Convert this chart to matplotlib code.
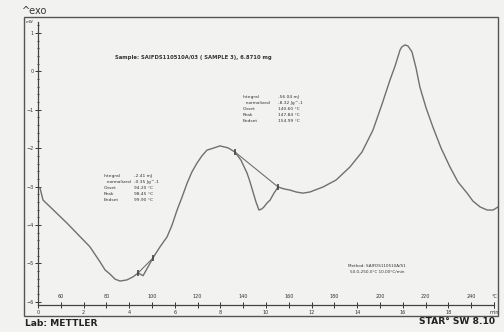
import numpy as np
import matplotlib
matplotlib.use('Agg')
import matplotlib.pyplot as plt
from matplotlib.patches import Rectangle
from matplotlib.ticker import FixedLocator

# DSC curve (temperature in C, heat flow in mW)
temp = [50.9, 52.2, 62.7, 72.8, 77.2, 79.4, 81.6, 83.8, 86.0, 89.0,
        91.7, 93.9, 96.1, 100.4, 103.5, 106.6, 108.8, 111.0, 113.2, 115.4,
        117.5, 119.7, 121.9, 124.1, 126.8, 129.8, 133.3, 136.4, 139.0, 141.7,
        143.0, 144.3, 145.6, 146.9, 148.2, 149.1, 150.4, 151.8, 153.5, 155.3,
        157.9, 160.5, 163.2, 166.2, 169.3, 175.0, 180.7, 186.8, 192.1, 196.9,
        200.9, 204.4, 206.6, 208.8, 209.6, 211.0, 212.3, 214.0, 215.8, 217.5,
        220.2, 223.2, 226.8, 230.7, 234.2, 238.2, 240.8, 243.9, 247.0, 249.6,
        251.8]
heat = [-3.04, -3.35, -3.95, -4.57, -4.96, -5.17, -5.28, -5.41, -5.46, -5.43,
        -5.35, -5.25, -5.32, -4.86, -4.57, -4.31, -4.00, -3.61, -3.27, -2.91,
        -2.62, -2.39, -2.20, -2.05, -2.00, -1.94, -1.99, -2.10, -2.31, -2.65,
        -2.88, -3.14, -3.40, -3.61, -3.58, -3.53, -3.43, -3.35, -3.17, -3.01,
        -3.06, -3.09, -3.14, -3.17, -3.14, -3.01, -2.83, -2.49, -2.10, -1.53,
        -0.85, -0.22, 0.14, 0.56, 0.64, 0.69, 0.66, 0.51, 0.09, -0.41,
        -0.95, -1.45, -2.00, -2.49, -2.88, -3.17, -3.38, -3.53, -3.61, -3.61,
        -3.53]

# integration limits of the two evaluated peaks
peak1_t = [93.9, 100.4]
peak1_h = [-5.25, -4.86]
peak2_t = [136.4, 155.3]
peak2_h = [-2.10, -3.01]

temp_ticks = [60, 80, 100, 120, 140, 160, 180, 200, 220, 240, 250]
temp_labels = ['60', '80', '100', '120', '140', '160', '180', '200', '220', '240', '°C']
time_ticks = [0, 2, 4, 6, 8, 10, 12, 14, 16, 18, 20]
time_labels = ['0', '2', '4', '6', '8', '10', '12', '14', '16', '18', 'min']
y_ticks = [-6, -5, -4, -3, -2, -1, 0, 1]

table_rows = ['Integral', '  normalized', 'Onset', 'Peak', 'Endset']
table1_vals = ['-2.41 mJ', '-0.35 Jg^-1', '94.20 °C', '98.45 °C', '99.90 °C']
table2_vals = ['-56.04 mJ', '-8.32 Jg^-1', '140.60 °C', '147.84 °C', '154.99 °C']

W, H = 504, 332


def px(x, y):
    return x / W, 1 - y / H


fig = plt.figure(figsize=(W / 100, H / 100), dpi=100)
fig.patch.set_facecolor('#f2f2f0')

# axes covers the printed frame; x axis line sits at -6.08 mW
x0, x1 = 43.86, 251.75
y0, y1 = -6.37, 1.417
yaxis_bot = -6.08
ax = fig.add_axes([24 / W, 16 / H, 474 / W, 299 / H])
ax.set_facecolor('none')
ax.set_xlim(x0, x1)
ax.set_ylim(y0, y1)

line_col = '#707070'
ax.plot(temp, heat, color=line_col, lw=1.0, solid_joinstyle='round')
ax.plot(peak1_t, peak1_h, color=line_col, lw=0.8, marker='|', ms=5, mew=1.2, mec='#444')
ax.plot(peak2_t, peak2_h, color=line_col, lw=0.8, marker='|', ms=5, mew=1.2, mec='#444')

for s in ['left', 'bottom', 'top']:
    ax.spines[s].set_color('#444')
    ax.spines[s].set_linewidth(0.9)
ax.spines['left'].set_position(('data', 50))
ax.spines['left'].set_bounds(yaxis_bot, 1.29)
ax.spines['bottom'].set_position(('data', yaxis_bot))
ax.spines['bottom'].set_bounds(50, 250)
ax.spines['top'].set_position(('data', yaxis_bot))
ax.spines['top'].set_visible(False)
ax.spines['right'].set_visible(False)

# temperature labels above the axis line
ax.set_xticks(temp_ticks, temp_labels)
ax.tick_params(axis='x', bottom=False, labelbottom=False, top=True, labeltop=True,
               direction='inout', length=5, width=0.7, pad=1.5, labelsize=3.5,
               colors='#333')

# time labels below the axis line
loc = (yaxis_bot - y0) / (y1 - y0)
sec = ax.secondary_xaxis(loc, functions=(lambda T: (T - 50) / 10.0,
                                         lambda t: 50 + 10.0 * t))
sec.set_xticks(time_ticks, time_labels)
sec.spines['bottom'].set_visible(False)
sec.tick_params(direction='inout', length=5, width=0.7, pad=1.5, labelsize=3.5,
                colors='#333')

ax.set_yticks(y_ticks)
ax.yaxis.set_minor_locator(FixedLocator(np.arange(-6.0, 1.21, 0.2)))
ax.tick_params(axis='y', which='major', direction='inout', length=4, width=0.7,
               pad=1, labelsize=3.5, colors='#333')
ax.tick_params(axis='y', which='minor', direction='inout', length=2, width=0.5)

# outer frame
fig.add_artist(Rectangle(px(24, 316), 474 / W, 299 / H, transform=fig.transFigure,
                         fill=False, lw=1.0, ec='#555'))

fig.text(*px(22, 11), '^exo', fontsize=7, color='#333', va='center')
fig.text(*px(26, 22), 'mW', fontsize=2.8, color='#333', va='center')
fig.text(*px(115, 57), 'Sample: SAIFDS110510A/03 ( SAMPLE 3), 6.8710 mg',
         fontsize=3.8, fontweight='bold', color='#333', va='center')

for i, row in enumerate(table_rows):
    yy = 176 + 6 * i
    fig.text(*px(104, yy), row, fontsize=3.2, color='#333', va='center')
    fig.text(*px(134, yy), table1_vals[i], fontsize=3.2, color='#333', va='center')
    yy = 97 + 6 * i
    fig.text(*px(243, yy), row, fontsize=3.2, color='#333', va='center')
    fig.text(*px(278, yy), table2_vals[i], fontsize=3.2, color='#333', va='center')

fig.text(*px(348, 266), 'Method: SAIFDS110510A/S1', fontsize=3.0, color='#333', va='center')
fig.text(*px(350, 272), '50.0-250.0°C 10.00°C/min', fontsize=3.0, color='#333', va='center')

fig.text(*px(25, 323), 'Lab: METTLER', fontsize=6.6, fontweight='bold', color='#222', va='center')
fig.text(*px(495, 322), 'STAR° SW 8.10', fontsize=6.6, fontweight='bold', color='#222',
         va='center', ha='right')

fig.savefig('out.png', dpi=100, facecolor=fig.get_facecolor())
